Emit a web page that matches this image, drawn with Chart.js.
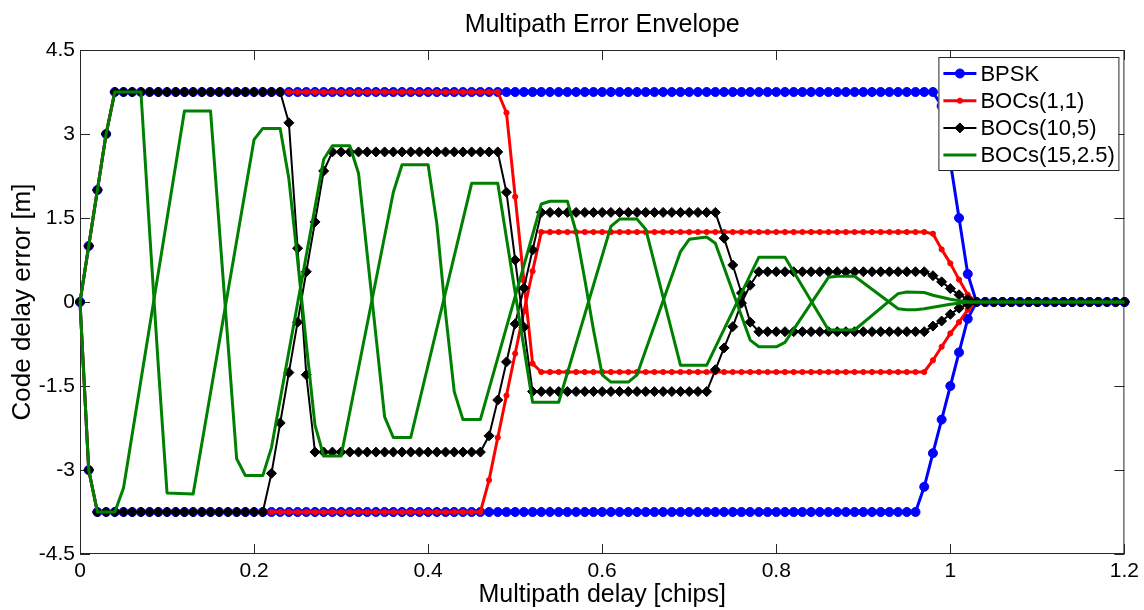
<!DOCTYPE html>
<html>
<head>
<meta charset="utf-8">
<title>Multipath Error Envelope</title>
<script src="https://cdn.jsdelivr.net/npm/chart.js@4.4.1/dist/chart.umd.min.js"></script>
<style>
  html, body { margin: 0; padding: 0; background: #ffffff; }
  #wrap { width: 1144px; height: 610px; }
  canvas { display: block; }
</style>
</head>
<body>
<div id="wrap"><canvas id="envelope" width="1144" height="610"></canvas></div>
<script>
// Multipath delay grid, chips
const delays = [
  0,0.01,0.02,0.03,0.04,0.05,0.06,0.07,0.08,0.09,
  0.1,0.11,0.12,0.13,0.14,0.15,0.16,0.17,0.18,0.19,
  0.2,0.21,0.22,0.23,0.24,0.25,0.26,0.27,0.28,0.29,
  0.3,0.31,0.32,0.33,0.34,0.35,0.36,0.37,0.38,0.39,
  0.4,0.41,0.42,0.43,0.44,0.45,0.46,0.47,0.48,0.49,
  0.5,0.51,0.52,0.53,0.54,0.55,0.56,0.57,0.58,0.59,
  0.6,0.61,0.62,0.63,0.64,0.65,0.66,0.67,0.68,0.69,
  0.7,0.71,0.72,0.73,0.74,0.75,0.76,0.77,0.78,0.79,
  0.8,0.81,0.82,0.83,0.84,0.85,0.86,0.87,0.88,0.89,
  0.9,0.91,0.92,0.93,0.94,0.95,0.96,0.97,0.98,0.99,
  1,1.01,1.02,1.03,1.04,1.05,1.06,1.07,1.08,1.09,
  1.1,1.11,1.12,1.13,1.14,1.15,1.16,1.17,1.18,1.19,
  1.2
];

const seriesNames = ['BPSK', 'BOCs(1,1)', 'BOCs(10,5)', 'BOCs(15,2.5)'];
const xTickLabels = ['0', '0.2', '0.4', '0.6', '0.8', '1', '1.2'];
const yTickLabels = ['-4.5', '-3', '-1.5', '0', '1.5', '3', '4.5'];

// Code delay error [m], in-phase (upper) and out-of-phase (lower) envelopes
const bpskUpper = [
  0,1,2,3,
  3.75,3.75,3.75,3.75,3.75,3.75,3.75,3.75,3.75,3.75,
  3.75,3.75,3.75,3.75,3.75,3.75,3.75,3.75,3.75,3.75,
  3.75,3.75,3.75,3.75,3.75,3.75,3.75,3.75,3.75,3.75,
  3.75,3.75,3.75,3.75,3.75,3.75,3.75,3.75,3.75,3.75,
  3.75,3.75,3.75,3.75,3.75,3.75,3.75,3.75,3.75,3.75,
  3.75,3.75,3.75,3.75,3.75,3.75,3.75,3.75,3.75,3.75,
  3.75,3.75,3.75,3.75,3.75,3.75,3.75,3.75,3.75,3.75,
  3.75,3.75,3.75,3.75,3.75,3.75,3.75,3.75,3.75,3.75,
  3.75,3.75,3.75,3.75,3.75,3.75,3.75,3.75,3.75,3.75,
  3.75,3.75,3.75,3.75,3.75,
  3.5,2.5,1.5,0.5,
  0,0,0,0,0,0,0,0,0,0,0,0,0,0,0,0,0,0
];
const bpskLower = [
  0,-3,
  -3.75,-3.75,-3.75,-3.75,-3.75,-3.75,-3.75,-3.75,-3.75,-3.75,
  -3.75,-3.75,-3.75,-3.75,-3.75,-3.75,-3.75,-3.75,-3.75,-3.75,
  -3.75,-3.75,-3.75,-3.75,-3.75,-3.75,-3.75,-3.75,-3.75,-3.75,
  -3.75,-3.75,-3.75,-3.75,-3.75,-3.75,-3.75,-3.75,-3.75,-3.75,
  -3.75,-3.75,-3.75,-3.75,-3.75,-3.75,-3.75,-3.75,-3.75,-3.75,
  -3.75,-3.75,-3.75,-3.75,-3.75,-3.75,-3.75,-3.75,-3.75,-3.75,
  -3.75,-3.75,-3.75,-3.75,-3.75,-3.75,-3.75,-3.75,-3.75,-3.75,
  -3.75,-3.75,-3.75,-3.75,-3.75,-3.75,-3.75,-3.75,-3.75,-3.75,
  -3.75,-3.75,-3.75,-3.75,-3.75,-3.75,-3.75,-3.75,-3.75,-3.75,
  -3.75,-3.75,-3.75,-3.75,-3.75,
  -3.3,-2.7,-2.1,-1.5,-0.9,-0.3,
  0,0,0,0,0,0,0,0,0,0,0,0,0,0,0,0,0,0
];

const boc11Upper = [
  0,1,2,3,
  3.75,3.75,3.75,3.75,3.75,3.75,3.75,3.75,3.75,3.75,
  3.75,3.75,3.75,3.75,3.75,3.75,3.75,3.75,3.75,3.75,
  3.75,3.75,3.75,3.75,3.75,3.75,3.75,3.75,3.75,3.75,
  3.75,3.75,3.75,3.75,3.75,3.75,3.75,3.75,3.75,3.75,
  3.75,3.75,3.75,3.75,3.75,
  3.38,1.88,0.38,-1.1,
  -1.25,-1.25,-1.25,-1.25,-1.25,-1.25,-1.25,-1.25,-1.25,-1.25,
  -1.25,-1.25,-1.25,-1.25,-1.25,-1.25,-1.25,-1.25,-1.25,-1.25,
  -1.25,-1.25,-1.25,-1.25,-1.25,-1.25,-1.25,-1.25,-1.25,-1.25,
  -1.25,-1.25,-1.25,-1.25,-1.25,-1.25,-1.25,-1.25,-1.25,-1.25,
  -1.25,-1.25,-1.25,-1.25,-1.25,
  -1.04,-0.8,-0.56,-0.36,-0.14,
  0,0,0,0,0,0,0,0,0,0,0,0,0,0,0,0,0,0
];
const boc11Lower = [
  0,-3,
  -3.75,-3.75,-3.75,-3.75,-3.75,-3.75,-3.75,-3.75,-3.75,-3.75,
  -3.75,-3.75,-3.75,-3.75,-3.75,-3.75,-3.75,-3.75,-3.75,-3.75,
  -3.75,-3.75,-3.75,-3.75,-3.75,-3.75,-3.75,-3.75,-3.75,-3.75,
  -3.75,-3.75,-3.75,-3.75,-3.75,-3.75,-3.75,-3.75,-3.75,-3.75,
  -3.75,-3.75,-3.75,-3.75,-3.75,
  -3.18,-2.42,-1.67,-0.92,-0.17,0.55,
  1.25,1.25,1.25,1.25,1.25,1.25,1.25,1.25,1.25,1.25,
  1.25,1.25,1.25,1.25,1.25,1.25,1.25,1.25,1.25,1.25,
  1.25,1.25,1.25,1.25,1.25,1.25,1.25,1.25,1.25,1.25,
  1.25,1.25,1.25,1.25,1.25,1.25,1.25,1.25,1.25,1.25,
  1.25,1.25,1.25,1.25,1.25,
  1.22,0.94,0.69,0.4,0.13,
  0,0,0,0,0,0,0,0,0,0,0,0,0,0,0,0,0,0
];

const boc105Upper = [
  0,1,2,3,
  3.75,3.75,3.75,3.75,3.75,3.75,3.75,3.75,3.75,3.75,
  3.75,3.75,3.75,3.75,3.75,3.75,3.75,3.75,3.75,3.75,
  3.2,0.96,-1.3,
  -2.68,-2.68,-2.68,-2.68,-2.68,-2.68,-2.68,-2.68,-2.68,-2.68,
  -2.68,-2.68,-2.68,-2.68,-2.68,-2.68,-2.68,-2.68,-2.68,-2.68,
  -2.39,-1.75,-1.07,-0.39,0.25,0.93,
  1.6,1.6,1.6,1.6,1.6,1.6,1.6,1.6,1.6,1.6,
  1.6,1.6,1.6,1.6,1.6,1.6,1.6,1.6,1.6,1.6,1.6,
  1.14,0.66,0.16,-0.36,
  -0.53,-0.53,-0.53,-0.53,-0.53,-0.53,-0.53,-0.53,-0.53,-0.53,
  -0.53,-0.53,-0.53,-0.53,-0.53,-0.53,-0.53,-0.53,-0.53,-0.53,
  -0.43,-0.34,-0.22,-0.11,-0.04,
  0,0,0,0,0,0,0,0,0,0,0,0,0,0,0,0,0,0
];
const boc105Lower = [
  0,-3,
  -3.75,-3.75,-3.75,-3.75,-3.75,-3.75,-3.75,-3.75,-3.75,-3.75,
  -3.75,-3.75,-3.75,-3.75,-3.75,-3.75,-3.75,-3.75,-3.75,-3.75,
  -3.06,-2.16,-1.26,-0.36,0.54,1.43,2.34,
  2.68,2.68,2.68,2.68,2.68,2.68,2.68,2.68,2.68,2.68,
  2.68,2.68,2.68,2.68,2.68,2.68,2.68,2.68,2.68,2.68,
  1.96,0.75,-0.45,
  -1.6,-1.6,-1.6,-1.6,-1.6,-1.6,-1.6,-1.6,-1.6,-1.6,
  -1.6,-1.6,-1.6,-1.6,-1.6,-1.6,-1.6,-1.6,-1.6,-1.6,-1.6,
  -1.21,-0.82,-0.44,-0.02,0.3,
  0.54,0.54,0.54,0.54,0.54,0.54,0.54,0.54,0.54,0.54,
  0.54,0.54,0.54,0.54,0.54,0.54,0.54,0.54,0.54,0.54,
  0.47,0.36,0.24,0.13,0.05,
  0,0,0,0,0,0,0,0,0,0,0,0,0,0,0,0,0,0
];

// BOCs(15,2.5): plotted without markers, so only the corner points of each envelope are listed
const boc152UpperX = [
  0,0.01,0.02,0.03,0.04,0.07,0.08,0.09,0.1,0.13,
  0.2,0.21,0.23,0.24,0.25,0.26,0.27,0.28,0.3,0.36,
  0.37,0.4,0.41,0.42,0.43,0.44,0.46,0.53,0.54,0.56,
  0.57,0.58,0.59,0.6,0.61,0.63,0.64,0.69,0.7,0.72,
  0.73,0.77,0.78,0.8,0.81,0.86,0.87,0.89,0.94,0.95,
  0.96,0.97,1,1.02,1.2
];
const boc152UpperY = [
  0,1,2,3,3.75,3.75,1.25,-1.15,-3.41,-3.43,
  2.9,3.1,3.1,2.2,0.75,-0.75,-2.2,-2.75,-2.75,1.96,
  2.45,2.45,1.4,-0.2,-1.6,-2.1,-2.1,1.75,1.8,1.8,
  1.25,0.4,-0.5,-1.3,-1.43,-1.43,-1.3,0.9,1.12,1.16,
  1.05,-0.68,-0.8,-0.8,-0.72,0.44,0.46,0.46,-0.12,-0.14,
  -0.14,-0.12,-0.04,0,0
];
const boc152LowerX = [
  0,0.01,0.02,0.04,0.05,0.12,0.15,0.18,0.19,0.21,
  0.22,0.28,0.29,0.31,0.32,0.35,0.36,0.38,0.45,0.48,
  0.52,0.55,0.61,0.62,0.64,0.65,0.69,0.72,0.78,0.81,
  0.86,0.89,0.94,0.95,0.97,0.98,1,1.02,1.2
];
const boc152LowerY = [
  0,-3,-3.75,-3.75,-3.32,3.41,3.41,-2.8,-3.1,-3.1,
  -2.6,2.55,2.79,2.79,2.3,-2.05,-2.42,-2.42,2.12,2.12,
  -1.79,-1.79,1.35,1.48,1.48,1.3,-1.13,-1.13,0.8,0.8,
  -0.5,-0.5,0.15,0.18,0.17,0.12,0.05,0,0
];

const FONT = "'Liberation Sans', Arial, Helvetica, sans-serif";
const INK = '#000000';

const gridPoints = ys => delays.map((x, i) => ({ x: x, y: ys[i] }));
const cornerPoints = (xs, ys) => xs.map((x, i) => ({ x: x, y: ys[i] }));

// styling per signal: colour, line width, marker
const styles = [
  { color: '#0000ff', width: 3, pointStyle: 'circle',  radius: 4.5, order: 3 },
  { color: '#ff0000', width: 3, pointStyle: 'circle',  radius: 2.6, order: 2 },
  { color: '#000000', width: 2, pointStyle: 'rectRot', radius: 5,   order: 1 },
  { color: '#008000', width: 3, pointStyle: false,     radius: 0,   order: 0 }
];

const curves = [
  [gridPoints(bpskUpper), gridPoints(bpskLower)],
  [gridPoints(boc11Upper), gridPoints(boc11Lower)],
  [gridPoints(boc105Upper), gridPoints(boc105Lower)],
  [cornerPoints(boc152UpperX, boc152UpperY), cornerPoints(boc152LowerX, boc152LowerY)]
];

const datasets = [];
curves.forEach((pair, s) => {
  const st = styles[s];
  pair.forEach(points => {
    datasets.push({
      label: seriesNames[s],
      data: points,
      borderColor: st.color,
      backgroundColor: st.color,
      borderWidth: st.width,
      pointStyle: st.pointStyle,
      pointRadius: st.radius,
      pointBorderWidth: 1,
      pointBackgroundColor: st.color,
      pointBorderColor: st.color,
      borderJoinStyle: 'round',
      tension: 0,
      clip: 12,
      order: st.order
    });
  });
});

// Box around the axes with inward tick marks on all four sides
const axesFrame = {
  id: 'axesFrame',
  beforeDatasetsDraw(chart) {
    const { ctx, chartArea: a, scales: { x, y } } = chart;
    const len = 10;
    ctx.save();
    ctx.strokeStyle = '#262626';
    ctx.lineWidth = 1;
    ctx.strokeRect(a.left + 0.5, a.top + 0.5, a.right - a.left - 1, a.bottom - a.top - 1);
    ctx.beginPath();
    x.ticks.forEach(t => {
      const px = Math.round(x.getPixelForValue(t.value)) + 0.5;
      ctx.moveTo(px, a.bottom); ctx.lineTo(px, a.bottom - len);
      ctx.moveTo(px, a.top); ctx.lineTo(px, a.top + len);
    });
    y.ticks.forEach(t => {
      const py = Math.round(y.getPixelForValue(t.value)) + 0.5;
      ctx.moveTo(a.left, py); ctx.lineTo(a.left + len, py);
      ctx.moveTo(a.right, py); ctx.lineTo(a.right - len, py);
    });
    ctx.stroke();
    ctx.restore();
  }
};

// Boxed legend in the upper right corner of the axes
const boxedLegend = {
  id: 'boxedLegend',
  afterDraw(chart) {
    const { ctx, chartArea: a } = chart;
    const w = 180, h = 113;
    const left = a.right - 6 - w, top = a.top + 7;
    ctx.save();
    ctx.fillStyle = '#ffffff';
    ctx.fillRect(left, top, w, h);
    ctx.strokeStyle = '#262626';
    ctx.lineWidth = 1;
    ctx.strokeRect(left + 0.5, top + 0.5, w, h);
    ctx.font = '22px ' + FONT;
    ctx.textBaseline = 'middle';
    ctx.textAlign = 'left';
    seriesNames.forEach((name, i) => {
      const st = styles[i];
      const yy = top + 16.5 + i * 27.2;
      ctx.strokeStyle = st.color;
      ctx.fillStyle = st.color;
      ctx.lineWidth = st.width;
      ctx.beginPath();
      ctx.moveTo(left + 5, yy);
      ctx.lineTo(left + 38, yy);
      ctx.stroke();
      if (st.pointStyle) {
        ctx.lineWidth = 1;
        Chart.helpers.drawPoint(ctx, { pointStyle: st.pointStyle, radius: st.radius, rotation: 0, borderWidth: 1 }, left + 21.5, yy);
      }
      ctx.fillStyle = INK;
      ctx.fillText(name, left + 42, yy + 1);
    });
    ctx.restore();
  }
};

Chart.defaults.font.family = FONT;
Chart.defaults.color = INK;

new Chart(document.getElementById('envelope'), {
  type: 'line',
  data: { datasets: datasets },
  plugins: [axesFrame, boxedLegend],
  options: {
    responsive: false,
    animation: false,
    devicePixelRatio: 1,
    events: [],
    layout: { padding: { left: 0, right: 18, top: 0, bottom: 0 } },
    plugins: {
      legend: { display: false },
      tooltip: { enabled: false },
      title: {
        display: true,
        text: 'Multipath Error Envelope',
        fullSize: false,
        color: INK,
        font: { size: 25, weight: 'normal', family: FONT, lineHeight: 1.2 },
        padding: { top: 10, bottom: 10 }
      }
    },
    scales: {
      x: {
        type: 'linear',
        min: 0,
        max: 1.2,
        grid: { display: false, drawTicks: false },
        border: { display: false },
        ticks: {
          stepSize: 0.2,
          padding: 5,
          maxRotation: 0,
          color: INK,
          font: { size: 21, family: FONT },
          callback: (v, i) => xTickLabels[i]
        },
        title: {
          display: true,
          text: 'Multipath delay [chips]',
          color: INK,
          font: { size: 25, family: FONT },
          padding: { top: 0, bottom: 0 }
        },
        afterFit: s => { s.height = 56; }
      },
      y: {
        type: 'linear',
        min: -4.5,
        max: 4.5,
        grid: { display: false, drawTicks: false },
        border: { display: false },
        ticks: {
          stepSize: 1.5,
          padding: 5,
          color: INK,
          font: { size: 21, family: FONT },
          callback: (v, i) => yTickLabels[i]
        },
        title: {
          display: true,
          text: 'Code delay error [m]',
          color: INK,
          font: { size: 26, family: FONT },
          padding: { top: 7, bottom: 0 }
        },
        afterFit: s => { s.width = 80; }
      }
    }
  }
});
</script>
</body>
</html>
